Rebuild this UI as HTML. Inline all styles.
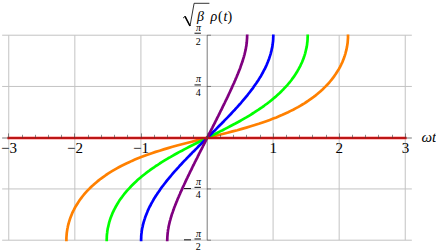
<!DOCTYPE html><html><head><meta charset="utf-8"><title>plot</title><style>html,body{margin:0;padding:0;background:#fff;font-family:"Liberation Serif",serif}svg{display:block}</style></head><body>
<svg width="436" height="251" viewBox="0 0 436 251">
<rect width="436" height="251" fill="#fff"/>
<path d="M8.76,35.21V240.19M74.84,35.21V240.19M140.92,35.21V240.19M273.08,35.21V240.19M339.16,35.21V240.19M405.24,35.21V240.19M2.15,240.19H411.85M2.15,188.95H411.85M2.15,86.45H411.85M2.15,35.21H411.85" stroke="#c3c3c3" stroke-width="1" fill="none"/>
<path d="M66.4,241.2L66.4,240.3L66.4,239.1L66.4,237.8L66.5,236.5L66.6,235.2L66.7,233.9L66.8,232.7L67.0,231.4L67.2,230.1L67.4,228.8L67.7,227.5L67.9,226.3L68.2,225.0L68.6,223.7L68.9,222.4L69.3,221.1L69.7,219.8L70.1,218.6L70.6,217.3L71.1,216.0L71.6,214.7L72.1,213.4L72.7,212.2L73.3,210.9L74.0,209.6L74.6,208.3L75.3,207.0L76.1,205.8L76.9,204.5L77.7,203.2L78.5,201.9L79.4,200.6L80.3,199.3L81.2,198.1L82.2,196.8L83.2,195.5L84.3,194.2L85.4,192.9L86.5,191.7L87.7,190.4L89.0,189.1L90.3,187.8L91.6,186.5L93.0,185.3L94.4,184.0L95.9,182.7L97.4,181.4L99.0,180.1L100.7,178.8L102.4,177.6L104.2,176.3L106.0,175.0L108.0,173.7L110.0,172.4L112.0,171.2L114.2,169.9L116.4,168.6L118.8,167.3L121.2,166.0L123.7,164.8L126.3,163.5L129.1,162.2L131.9,160.9L134.9,159.6L138.0,158.3L141.2,157.1L144.6,155.8L148.1,154.5L151.8,153.2L155.6,151.9L159.6,150.7L163.7,149.4L168.0,148.1L172.5,146.8L177.1,145.5L181.9,144.3L186.8,143.0L191.8,141.7L196.9,140.4L202.0,139.1L207.2,137.8L212.4,136.6L217.5,135.3L222.6,134.0L227.6,132.7L232.5,131.4L237.3,130.2L241.9,128.9L246.4,127.6L250.7,126.3L254.8,125.0L258.8,123.8L262.6,122.5L266.3,121.2L269.8,119.9L273.2,118.6L276.4,117.4L279.5,116.1L282.5,114.8L285.3,113.5L288.1,112.2L290.7,110.9L293.2,109.7L295.6,108.4L298.0,107.1L300.2,105.8L302.4,104.5L304.4,103.3L306.4,102.0L308.4,100.7L310.2,99.4L312.0,98.1L313.7,96.9L315.4,95.6L317.0,94.3L318.5,93.0L320.0,91.7L321.4,90.4L322.8,89.2L324.1,87.9L325.4,86.6L326.7,85.3L327.9,84.0L329.0,82.8L330.1,81.5L331.2,80.2L332.2,78.9L333.2,77.6L334.1,76.4L335.0,75.1L335.9,73.8L336.7,72.5L337.5,71.2L338.3,69.9L339.1,68.7L339.8,67.4L340.4,66.1L341.1,64.8L341.7,63.5L342.3,62.3L342.8,61.0L343.3,59.7L343.8,58.4L344.3,57.1L344.7,55.9L345.1,54.6L345.5,53.3L345.8,52.0L346.2,50.7L346.5,49.4L346.7,48.2L347.0,46.9L347.2,45.6L347.4,44.3L347.6,43.0L347.7,41.8L347.8,40.5L347.9,39.2L348.0,37.9L348.0,36.6L348.0,35.4L348.0,34.5" stroke="#ff8000" stroke-width="2.7" fill="none" stroke-linejoin="round"/>
<path d="M106.7,241.2L106.7,240.3L106.7,239.1L106.8,237.8L106.8,236.5L106.9,235.2L107.0,233.9L107.2,232.7L107.3,231.4L107.5,230.1L107.7,228.8L108.0,227.5L108.3,226.3L108.6,225.0L108.9,223.7L109.2,222.4L109.6,221.1L110.0,219.8L110.4,218.6L110.9,217.3L111.4,216.0L111.9,214.7L112.4,213.4L113.0,212.2L113.6,210.9L114.2,209.6L114.9,208.3L115.6,207.0L116.3,205.8L117.0,204.5L117.8,203.2L118.6,201.9L119.4,200.6L120.3,199.3L121.2,198.1L122.2,196.8L123.1,195.5L124.1,194.2L125.2,192.9L126.2,191.7L127.3,190.4L128.5,189.1L129.7,187.8L130.9,186.5L132.1,185.3L133.4,184.0L134.7,182.7L136.1,181.4L137.5,180.1L139.0,178.8L140.5,177.6L142.0,176.3L143.6,175.0L145.2,173.7L146.9,172.4L148.6,171.2L150.3,169.9L152.1,168.6L154.0,167.3L155.8,166.0L157.8,164.8L159.7,163.5L161.8,162.2L163.8,160.9L165.9,159.6L168.1,158.3L170.3,157.1L172.5,155.8L174.8,154.5L177.1,153.2L179.5,151.9L181.9,150.7L184.3,149.4L186.8,148.1L189.3,146.8L191.8,145.5L194.3,144.3L196.9,143.0L199.4,141.7L202.0,140.4L204.6,139.1L207.2,137.8L209.8,136.6L212.4,135.3L215.0,134.0L217.5,132.7L220.1,131.4L222.6,130.2L225.1,128.9L227.6,127.6L230.1,126.3L232.5,125.0L234.9,123.8L237.3,122.5L239.6,121.2L241.9,119.9L244.1,118.6L246.3,117.4L248.5,116.1L250.6,114.8L252.6,113.5L254.7,112.2L256.6,110.9L258.6,109.7L260.4,108.4L262.3,107.1L264.1,105.8L265.8,104.5L267.5,103.3L269.2,102.0L270.8,100.7L272.4,99.4L273.9,98.1L275.4,96.9L276.9,95.6L278.3,94.3L279.7,93.0L281.0,91.7L282.3,90.4L283.5,89.2L284.7,87.9L285.9,86.6L287.1,85.3L288.2,84.0L289.2,82.8L290.3,81.5L291.3,80.2L292.2,78.9L293.2,77.6L294.1,76.4L295.0,75.1L295.8,73.8L296.6,72.5L297.4,71.2L298.1,69.9L298.8,68.7L299.5,67.4L300.2,66.1L300.8,64.8L301.4,63.5L302.0,62.3L302.5,61.0L303.0,59.7L303.5,58.4L304.0,57.1L304.4,55.9L304.8,54.6L305.2,53.3L305.5,52.0L305.8,50.7L306.1,49.4L306.4,48.2L306.7,46.9L306.9,45.6L307.1,44.3L307.2,43.0L307.4,41.8L307.5,40.5L307.6,39.2L307.6,37.9L307.7,36.6L307.7,35.4L307.7,34.5" stroke="#00ff00" stroke-width="2.7" fill="none" stroke-linejoin="round"/>
<path d="M141.1,241.2L141.1,240.3L141.1,239.1L141.2,237.8L141.2,236.5L141.3,235.2L141.4,233.9L141.6,232.7L141.7,231.4L141.9,230.1L142.1,228.8L142.4,227.5L142.7,226.3L142.9,225.0L143.3,223.7L143.6,222.4L144.0,221.1L144.4,219.8L144.8,218.6L145.2,217.3L145.7,216.0L146.2,214.7L146.7,213.4L147.2,212.2L147.7,210.9L148.3,209.6L148.9,208.3L149.5,207.0L150.2,205.8L150.9,204.5L151.5,203.2L152.3,201.9L153.0,200.6L153.7,199.3L154.5,198.1L155.3,196.8L156.1,195.5L157.0,194.2L157.8,192.9L158.7,191.7L159.6,190.4L160.5,189.1L161.4,187.8L162.3,186.5L163.3,185.3L164.3,184.0L165.3,182.7L166.3,181.4L167.3,180.1L168.4,178.8L169.4,177.6L170.5,176.3L171.6,175.0L172.7,173.7L173.8,172.4L174.9,171.2L176.1,169.9L177.2,168.6L178.4,167.3L179.5,166.0L180.7,164.8L181.9,163.5L183.1,162.2L184.3,160.9L185.6,159.6L186.8,158.3L188.0,157.1L189.3,155.8L190.5,154.5L191.8,153.2L193.0,151.9L194.3,150.7L195.6,149.4L196.9,148.1L198.1,146.8L199.4,145.5L200.7,144.3L202.0,143.0L203.3,141.7L204.6,140.4L205.9,139.1L207.2,137.8L208.5,136.6L209.8,135.3L211.1,134.0L212.4,132.7L213.7,131.4L215.0,130.2L216.3,128.9L217.5,127.6L218.8,126.3L220.1,125.0L221.4,123.8L222.6,122.5L223.9,121.2L225.1,119.9L226.4,118.6L227.6,117.4L228.8,116.1L230.1,114.8L231.3,113.5L232.5,112.2L233.7,110.9L234.9,109.7L236.0,108.4L237.2,107.1L238.3,105.8L239.5,104.5L240.6,103.3L241.7,102.0L242.8,100.7L243.9,99.4L245.0,98.1L246.0,96.9L247.1,95.6L248.1,94.3L249.1,93.0L250.1,91.7L251.1,90.4L252.1,89.2L253.0,87.9L253.9,86.6L254.8,85.3L255.7,84.0L256.6,82.8L257.4,81.5L258.3,80.2L259.1,78.9L259.9,77.6L260.7,76.4L261.4,75.1L262.1,73.8L262.9,72.5L263.5,71.2L264.2,69.9L264.9,68.7L265.5,67.4L266.1,66.1L266.7,64.8L267.2,63.5L267.7,62.3L268.2,61.0L268.7,59.7L269.2,58.4L269.6,57.1L270.0,55.9L270.4,54.6L270.8,53.3L271.1,52.0L271.5,50.7L271.7,49.4L272.0,48.2L272.3,46.9L272.5,45.6L272.7,44.3L272.8,43.0L273.0,41.8L273.1,40.5L273.2,39.2L273.2,37.9L273.3,36.6L273.3,35.4L273.3,34.5" stroke="#0000ff" stroke-width="2.7" fill="none" stroke-linejoin="round"/>
<path d="M167.2,241.2L167.2,240.3L167.3,239.1L167.3,237.8L167.4,236.5L167.5,235.2L167.6,233.9L167.7,232.7L167.9,231.4L168.0,230.1L168.3,228.8L168.5,227.5L168.7,226.3L169.0,225.0L169.3,223.7L169.6,222.4L169.9,221.1L170.3,219.8L170.6,218.6L171.0,217.3L171.4,216.0L171.8,214.7L172.2,213.4L172.7,212.2L173.1,210.9L173.6,209.6L174.0,208.3L174.5,207.0L175.0,205.8L175.5,204.5L176.0,203.2L176.5,201.9L177.1,200.6L177.6,199.3L178.1,198.1L178.7,196.8L179.2,195.5L179.8,194.2L180.3,192.9L180.9,191.7L181.5,190.4L182.1,189.1L182.6,187.8L183.2,186.5L183.8,185.3L184.4,184.0L185.0,182.7L185.6,181.4L186.2,180.1L186.8,178.8L187.4,177.6L188.0,176.3L188.7,175.0L189.3,173.7L189.9,172.4L190.5,171.2L191.2,169.9L191.8,168.6L192.4,167.3L193.0,166.0L193.7,164.8L194.3,163.5L194.9,162.2L195.6,160.9L196.2,159.6L196.9,158.3L197.5,157.1L198.1,155.8L198.8,154.5L199.4,153.2L200.1,151.9L200.7,150.7L201.4,149.4L202.0,148.1L202.7,146.8L203.3,145.5L204.0,144.3L204.6,143.0L205.3,141.7L205.9,140.4L206.6,139.1L207.2,137.8L207.8,136.6L208.5,135.3L209.1,134.0L209.8,132.7L210.4,131.4L211.1,130.2L211.7,128.9L212.4,127.6L213.0,126.3L213.7,125.0L214.3,123.8L215.0,122.5L215.6,121.2L216.3,119.9L216.9,118.6L217.5,117.4L218.2,116.1L218.8,114.8L219.5,113.5L220.1,112.2L220.7,110.9L221.4,109.7L222.0,108.4L222.6,107.1L223.2,105.8L223.9,104.5L224.5,103.3L225.1,102.0L225.7,100.7L226.4,99.4L227.0,98.1L227.6,96.9L228.2,95.6L228.8,94.3L229.4,93.0L230.0,91.7L230.6,90.4L231.2,89.2L231.8,87.9L232.3,86.6L232.9,85.3L233.5,84.0L234.1,82.8L234.6,81.5L235.2,80.2L235.7,78.9L236.3,77.6L236.8,76.4L237.3,75.1L237.9,73.8L238.4,72.5L238.9,71.2L239.4,69.9L239.9,68.7L240.4,67.4L240.8,66.1L241.3,64.8L241.7,63.5L242.2,62.3L242.6,61.0L243.0,59.7L243.4,58.4L243.8,57.1L244.1,55.9L244.5,54.6L244.8,53.3L245.1,52.0L245.4,50.7L245.7,49.4L245.9,48.2L246.1,46.9L246.4,45.6L246.5,44.3L246.7,43.0L246.8,41.8L246.9,40.5L247.0,39.2L247.1,37.9L247.1,36.6L247.2,35.4L247.2,34.5" stroke="#800080" stroke-width="2.7" fill="none" stroke-linejoin="round"/>
<path d="M8.76,138.0H405.24" stroke="#ff0000" stroke-width="2.7" fill="none" stroke-linecap="square"/>
<path d="M2.15,138.0H411.85M207.2,35.21V240.19" stroke="#404040" stroke-width="0.7" fill="none"/>
<path d="M8.50,138.0v-4.6M22.50,138.0v-3.2M35.50,138.0v-3.2M48.50,138.0v-3.2M61.50,138.0v-3.2M74.50,138.0v-4.6M88.50,138.0v-3.2M101.50,138.0v-3.2M114.50,138.0v-3.2M127.50,138.0v-3.2M141.50,138.0v-4.6M154.50,138.0v-3.2M167.50,138.0v-3.2M180.50,138.0v-3.2M193.50,138.0v-3.2M207.50,138.0v-4.6M220.50,138.0v-3.2M233.50,138.0v-3.2M246.50,138.0v-3.2M260.50,138.0v-3.2M273.50,138.0v-4.6M286.50,138.0v-3.2M299.50,138.0v-3.2M312.50,138.0v-3.2M326.50,138.0v-3.2M339.50,138.0v-4.6M352.50,138.0v-3.2M365.50,138.0v-3.2M378.50,138.0v-3.2M392.50,138.0v-3.2M405.50,138.0v-4.6M207.2,240.19h3.8M207.2,188.95h3.8M207.2,86.45h3.8M207.2,35.21h3.8" stroke="#404040" stroke-width="0.6" fill="none"/>
<g font-family="'Liberation Serif',serif" fill="#000">
<g font-size="15" text-anchor="middle">
<text x="9" y="152.75">−3</text>
<text x="75" y="152.75">−2</text>
<text x="141" y="152.75">−1</text>
<text x="273.2" y="152.75">1</text>
<text x="339.3" y="152.75">2</text>
<text x="405.5" y="152.75">3</text>
</g>
<g font-size="10" text-anchor="middle">
<text x="198.4" y="31.4" font-style="italic">π</text>
<text x="198.3" y="44.9">2</text>
<text x="198.4" y="82.05" font-style="italic">π</text>
<text x="198.3" y="95.65">4</text>
<text x="198.4" y="184.85" font-style="italic">π</text>
<text x="198.3" y="198.35">4</text>
<text x="198.4" y="236.6" font-style="italic">π</text>
<text x="198.3" y="250">2</text>
</g>
<text x="421.5" y="142" font-size="15" font-style="italic">ωt</text>
<text y="20.5" font-size="14"><tspan x="197" font-style="italic">β</tspan><tspan x="210.6" font-style="italic">ρ</tspan><tspan x="218">(</tspan><tspan x="223.4" font-style="italic">t</tspan><tspan x="227.6">)</tspan></text>
</g>
<path d="M194.50,33.21h6.4M194.50,84.95h6.4M194.50,187.35h6.4M184.00,188.60h7.0M194.50,238.99h6.4M184.00,239.84h7.0" stroke="#000" stroke-width="0.95" fill="none"/>
<path d="M183.0,18.2L185.0,16.3L190.0,26.0L194.1,3.3H209.4" stroke="#000" stroke-width="0.8" fill="none"/>
<path d="M185.0,16.3L190.0,26.0" stroke="#000" stroke-width="1.5" fill="none"/>
</svg></body></html>
